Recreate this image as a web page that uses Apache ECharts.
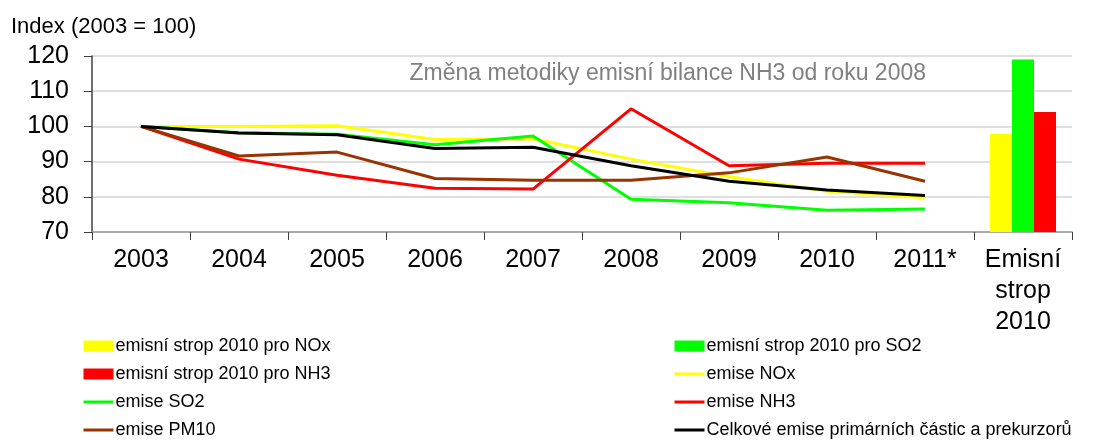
<!DOCTYPE html>
<html>
<head>
<meta charset="utf-8">
<script src="https://cdn.jsdelivr.net/npm/echarts@6/dist/echarts.min.js"></script>
<style>
	body { margin: 0; background: #fff; }
	#chart { width: 1120px; height: 440px; }
</style>
</head>
<body>
<div id="chart"></div>
<script>
	// kategorie
	var years = ['2003', '2004', '2005', '2006', '2007', '2008', '2009', '2010', '2011*', 'Emisní\nstrop\n2010'];

	// emise, index 2003 = 100
	var noxValues = [100, 100, 100.2, 96.3, 96.5, 90.7, 85.7, 81.6, 79.7, null];
	var so2Values = [100, 98.2, 97.8, 94.8, 97.3, 79.3, 78.3, 76.2, 76.5, null];
	var nh3Values = [100, 90.7, 86.1, 82.4, 82.2, 105.0, 88.8, 89.5, 89.5, null];
	var pm10Values = [100, 91.6, 92.7, 85.2, 84.7, 84.7, 86.8, 91.3, 84.4, null];
	var totalValues = [100, 98.1, 97.6, 93.7, 94.1, 88.8, 84.4, 81.9, 80.4, null];

	// emisni stropy 2010 (v ostatnich letech sedi na ose)
	var capNox = [70, 70, 70, 70, 70, 70, 70, 70, 70, 97.9];
	var capSo2 = [70, 70, 70, 70, 70, 70, 70, 70, 70, 119.0];
	var capNh3 = [70, 70, 70, 70, 70, 70, 70, 70, 70, 104.1];

	var yTicks = [70, 80, 90, 100, 110, 120];

	var font = 'Liberation Sans, Arial, sans-serif';

	function bar(name, data, color) {
		return {
			name: name,
			type: 'bar',
			data: data,
			barWidth: 22,
			barGap: '0%',
			barMinHeight: 2,
			itemStyle: { color: color },
			z: 1
		};
	}

	function line(name, data, color) {
		return {
			name: name,
			type: 'line',
			data: data,
			symbol: 'none',
			lineStyle: { color: color, width: 3 },
			itemStyle: { color: color },
			z: 3
		};
	}

	// polozka legendy pro caru - bez krouzku
	function lineItem(name) {
		return { name: name, itemStyle: { opacity: 0 } };
	}

	var legendBase = {
		orient: 'vertical',
		top: 337,
		padding: 0,
		itemWidth: 30,
		itemHeight: 11,
		itemGap: 10,
		height: 103,
		lineStyle: { width: 3 },
		textStyle: { fontSize: 18, lineHeight: 18, color: '#000', fontFamily: font, padding: [0, 0, 0, -3] }
	};

	var myChart = echarts.init(document.getElementById('chart'));
	var option = {
		animation: false,
		backgroundColor: '#fff',
		textStyle: { fontFamily: font },
		title: {
			text: 'Index (2003 = 100)',
			left: 11,
			top: 16,
			padding: 0,
			textStyle: { fontSize: 22, fontWeight: 'normal', color: '#000', fontFamily: font }
		},
		grid: { left: 92, right: 48, top: 56, bottom: 208 },
		legend: [
			Object.assign({}, legendBase, {
				left: 82,
				data: [
					{ name: 'emisní strop 2010 pro NOx', icon: 'rect' },
					{ name: 'emisní strop 2010 pro NH3', icon: 'rect' },
					lineItem('emise SO2'),
					lineItem('emise PM10')
				]
			}),
			Object.assign({}, legendBase, {
				left: 673,
				data: [
					{ name: 'emisní strop 2010 pro SO2', icon: 'rect' },
					lineItem('emise NOx'),
					lineItem('emise NH3'),
					lineItem('Celkové emise primárních částic a prekurzorů')
				]
			})
		],
		xAxis: {
			type: 'category',
			data: years,
			boundaryGap: true,
			axisLine: { lineStyle: { color: '#999999', width: 1.5 } },
			axisTick: { show: true, inside: false, length: 8, lineStyle: { color: '#404040' } },
			axisLabel: { fontSize: 25, color: '#000', margin: 13, lineHeight: 31, interval: 0, fontFamily: font },
			splitLine: { show: false }
		},
		yAxis: {
			type: 'value',
			min: yTicks[0],
			max: yTicks[yTicks.length - 1],
			interval: 10,
			axisLine: { show: true, lineStyle: { color: '#404040', width: 1.5 } },
			axisTick: { show: true, length: 8, lineStyle: { color: '#404040' } },
			axisLabel: { fontSize: 25, color: '#000', margin: 23, fontFamily: font },
			splitLine: { lineStyle: { color: '#d4d4d4', width: 1.5 } }
		},
		graphic: [{
			type: 'text',
			style: {
				text: 'Změna metodiky emisní bilance NH3 od roku 2008',
				x: 926,
				y: 74,
				align: 'right',
				verticalAlign: 'middle',
				fill: '#808080',
				font: '23px ' + font
			}
		}],
		series: [
			bar('emisní strop 2010 pro NOx', capNox, '#ffff00'),
			bar('emisní strop 2010 pro SO2', capSo2, '#00ff00'),
			bar('emisní strop 2010 pro NH3', capNh3, '#ff0000'),
			line('emise NOx', noxValues, '#ffff00'),
			line('emise SO2', so2Values, '#00ff00'),
			line('emise NH3', nh3Values, '#ff0000'),
			line('emise PM10', pm10Values, '#993300'),
			line('Celkové emise primárních částic a prekurzorů', totalValues, '#000000')
		]
	};
	myChart.setOption(option);
</script>
</body>
</html>
